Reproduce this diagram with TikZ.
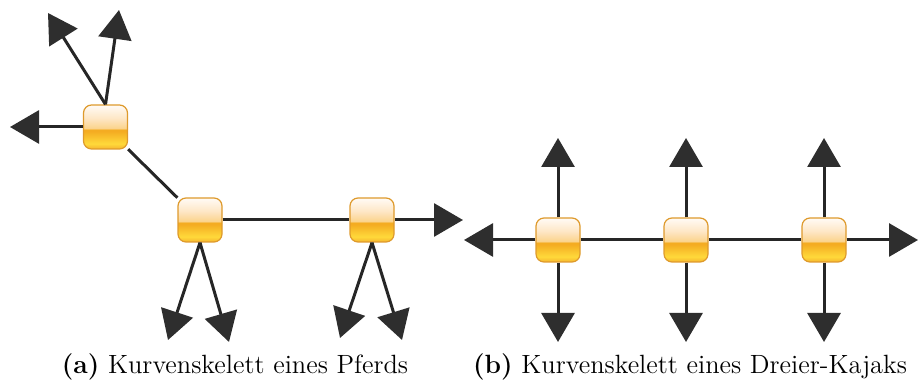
\documentclass[tikz,border=0pt]{standalone}
\usetikzlibrary{arrows.meta}

% glossy joint colours
\definecolor{jointedge}{HTML}{DE9A2C}
\definecolor{jointA}{HTML}{F6B52E}
\definecolor{jointB}{HTML}{FFD93A}
\definecolor{jointC}{HTML}{F4AC22}
\definecolor{jointD}{HTML}{FBD38C}
\definecolor{jointE}{HTML}{FEE7C6}
\definecolor{jointF}{HTML}{FFFBF6}
\definecolor{bone}{HTML}{262626}
\definecolor{tipfill}{HTML}{2E2E2E}

% bottom (25bp) to top (75bp) of the joint box
\pgfdeclareverticalshading{glossyjoint}{100bp}{%
  color(0bp)=(jointA); color(25bp)=(jointA); color(31bp)=(jointB);
  color(45bp)=(jointC); color(47bp)=(jointC); color(48.5bp)=(jointD);
  color(60bp)=(jointE); color(75bp)=(jointF); color(100bp)=(jointF)}

\tikzset{
  joint/.style={rectangle, rounded corners=4pt, minimum size=22pt,
    inner sep=0pt, draw=jointedge, line width=0.6pt, shading=glossyjoint},
  bone/.style={draw=bone, line width=1.5pt},
  limb/.style={bone, -{Triangle[length=14.5pt,width=16.5pt,fill=tipfill,color=tipfill]}},
  caption/.style={font=\fontsize{13.2}{16}\selectfont, anchor=base}
}

\begin{document}
\begin{tikzpicture}[x=0.5pt, y=-0.5pt]
  \useasboundingbox (0,0) rectangle (919,383);

  % --- horse skeleton ---
  \node[joint] (h1) at (105.5,127) {};
  \node[joint] (h2) at (200,220) {};
  \node[joint] (h3) at (372,220) {};

  \coordinate (h1l)  at (10,127);
  \coordinate (h1ul) at (48,13);
  \coordinate (h1u)  at (119,10);
  \coordinate (h2dl) at (168,340);
  \coordinate (h2dr) at (229,342);
  \coordinate (h3dl) at (340,338);
  \coordinate (h3dr) at (402,340);
  \coordinate (h3r)  at (463,220);

  \draw[bone] (h1) -- (h2);
  \draw[bone] (h2) -- (h3);
  \draw[limb] (h1.west) -- (h1l);
  \draw[limb] (h1.north) -- (h1ul);
  \draw[limb] (h1.north) -- (h1u);
  \draw[limb] (h2.south) -- (h2dl);
  \draw[limb] (h2.south) -- (h2dr);
  \draw[limb] (h3.south) -- (h3dl);
  \draw[limb] (h3.south) -- (h3dr);
  \draw[limb] (h3.east) -- (h3r);

  % --- three-seat kayak skeleton ---
  \node[joint] (k1) at (558,240) {};
  \node[joint] (k2) at (686,240) {};
  \node[joint] (k3) at (824,240) {};

  \coordinate (k1l) at (464,240);
  \coordinate (k3r) at (918,240);
  \coordinate (k1u) at (558,138);
  \coordinate (k2u) at (686,138);
  \coordinate (k3u) at (824,138);
  \coordinate (k1d) at (558,342);
  \coordinate (k2d) at (686,342);
  \coordinate (k3d) at (824,342);

  \draw[bone] (k1) -- (k2);
  \draw[bone] (k2) -- (k3);
  \draw[limb] (k1.west) -- (k1l);
  \draw[limb] (k3.east) -- (k3r);
  \foreach \k in {k1,k2,k3} {
    \draw[limb] (\k.north) -- (\k u);
    \draw[limb] (\k.south) -- (\k d);
  }

  % --- captions ---
  \node[caption] (capa) at (235,374) {\textbf{(a)} Kurvenskelett eines Pferds};
  \node[caption] (capb) at (690,374) {\textbf{(b)} Kurvenskelett eines Dreier-Kajaks};
\end{tikzpicture}
\end{document}
